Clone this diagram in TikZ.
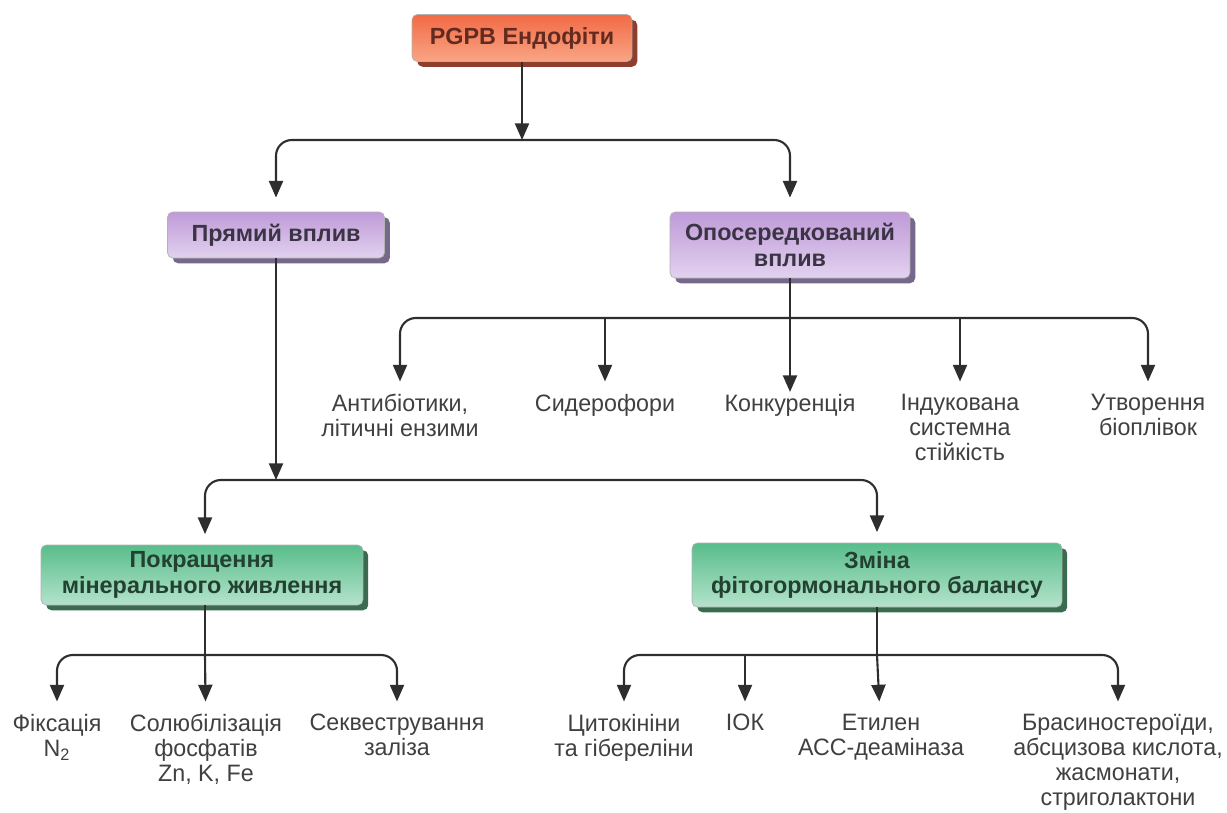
\documentclass[tikz,border=0pt]{standalone}
\usepackage{fontspec}
\setmainfont{Liberation Sans}
\newfontfamily\narrowfont[FakeStretch=0.98]{Liberation Sans}
\usetikzlibrary{arrows.meta,shadows}
\definecolor{orangetop}{HTML}{F26A45}
\definecolor{orangebot}{HTML}{F9A585}
\definecolor{orangesh}{HTML}{8E3E2C}
\definecolor{violettop}{HTML}{BF9AD8}
\definecolor{violetbot}{HTML}{E2D2EF}
\definecolor{violetsh}{HTML}{76688A}
\definecolor{greentop}{HTML}{58BD8B}
\definecolor{greenbot}{HTML}{B4E3CB}
\definecolor{greensh}{HTML}{3A6B50}
\definecolor{linegray}{HTML}{2E2E2E}
\begin{document}
\begin{tikzpicture}[x=0.02cm, y=-0.02cm,
   every node/.style={font=\fontsize{13.5}{14.3}\selectfont\narrowfont, align=center, text=black!75},
   box/.style={draw=gray!60, rounded corners=3pt, inner sep=3pt,
     font=\fontsize{13.3}{14.6}\selectfont\bfseries},
   rootbox/.style={box, top color=orangetop, bottom color=orangebot, text=orangesh!70!black,
     drop shadow={shadow xshift=3pt, shadow yshift=-3pt, fill=orangesh, opacity=1}},
   purplebox/.style={box, top color=violettop, bottom color=violetbot, text=violetsh!50!black,
     drop shadow={shadow xshift=3pt, shadow yshift=-3pt, fill=violetsh, opacity=1}},
   greenbox/.style={box, top color=greentop, bottom color=greenbot, text=greensh!60!black,
     drop shadow={shadow xshift=3pt, shadow yshift=-3pt, fill=greensh, opacity=1}},
   leaf/.style={anchor=north, inner sep=1pt},
   conn/.style={draw=linegray, line width=1.2pt, rounded corners=9pt},
   arr/.style={conn, -{Triangle[length=9.5pt,width=8pt]}},
   arrs/.style={conn, {Triangle[length=9.5pt,width=8pt]}-{Triangle[length=9.5pt,width=8pt]}}]
\useasboundingbox (0,0) rectangle (1227,812);

\node[rootbox, minimum width=4.4cm, minimum height=0.94cm] (root) at (522,38) {PGPB Ендофіти};
\node[purplebox, minimum width=4.34cm, minimum height=0.92cm] (direct) at (276,235) {Прямий вплив};
\node[purplebox, minimum width=4.8cm, minimum height=1.32cm] (indirect) at (790,245) {Опосередкований\\вплив};
\node[greenbox, minimum width=6.44cm, minimum height=1.2cm] (mineral) at (202,575) {Покращення\\мінерального живлення};
\node[greenbox, minimum width=7.4cm, minimum height=1.28cm] (hormone) at (877,575) {Зміна\\фітогормонального балансу};

\node[leaf] (antib) at (400,392) {Антибіотики,\\літичні ензими};
\node[leaf] (sider) at (605,392) {Сидерофори};
\node[leaf] (konk)  at (790,392) {Конкуренція};
\node[leaf] (isr)   at (960,392) {Індукована\\системна\\стійкість};
\node[leaf] (biofilm) at (1148,392) {Утворення\\біоплівок};

\node[leaf] (nfix) at (57,712) {Фіксація\\N\textsubscript{2}};
\node[leaf] (solub) at (206,712) {Солюбілізація\\фосфатів\\Zn, K, Fe};
\node[leaf] (sekv) at (397,712) {Секвестрування\\заліза};
\node[leaf] (cyto) at (624,712) {Цитокініни\\та гібереліни};
\node[leaf] (iok) at (745,712) {ІОК};
\node[leaf] (ethyl) at (881,712) {Етилен\\АСС-деаміназа};
\node[leaf] (brass) at (1118,712) {Брасиностероїди,\\абсцизова кислота,\\жасмонати,\\стриголактони};

\coordinate (b1) at (522,140);
\coordinate (b2) at (790,318);
\coordinate (b3) at (276,480);
\coordinate (b4) at (205,655);
\coordinate (b5) at (877,655);

\draw[arr] (root) -- (b1);
\draw[arrs, shorten <=8pt, shorten >=8pt] (direct) |- (b1) -| (indirect);

\draw[arr] (indirect) -- (konk);
\draw[arrs, shorten <=6pt, shorten >=6pt] (antib) |- (b2) -| (biofilm);
\draw[arr, shorten >=6pt] (sider |- b2) -- (sider);
\draw[arr, shorten >=6pt] (isr |- b2) -- (isr);

\draw[arr] (direct) -- (b3);
\draw[arrs, shorten <=6pt, shorten >=6pt] (mineral.north -| b4) |- (b3) -| (hormone);

\draw[conn] (mineral.south -| b4) -- (b4);
\draw[arrs, shorten <=6pt, shorten >=6pt] (nfix) |- (b4) -| (sekv);
\draw[arr, shorten >=6pt] (b4) -- (solub);

\draw[conn] (hormone) -- (b5);
\draw[arrs, shorten <=6pt, shorten >=6pt] (cyto) |- (b5) -| (brass);
\draw[arr, shorten >=6pt] (iok |- b5) -- (iok);
\draw[arr, shorten >=6pt] (b5) -- (ethyl);
\end{tikzpicture}
\end{document}
